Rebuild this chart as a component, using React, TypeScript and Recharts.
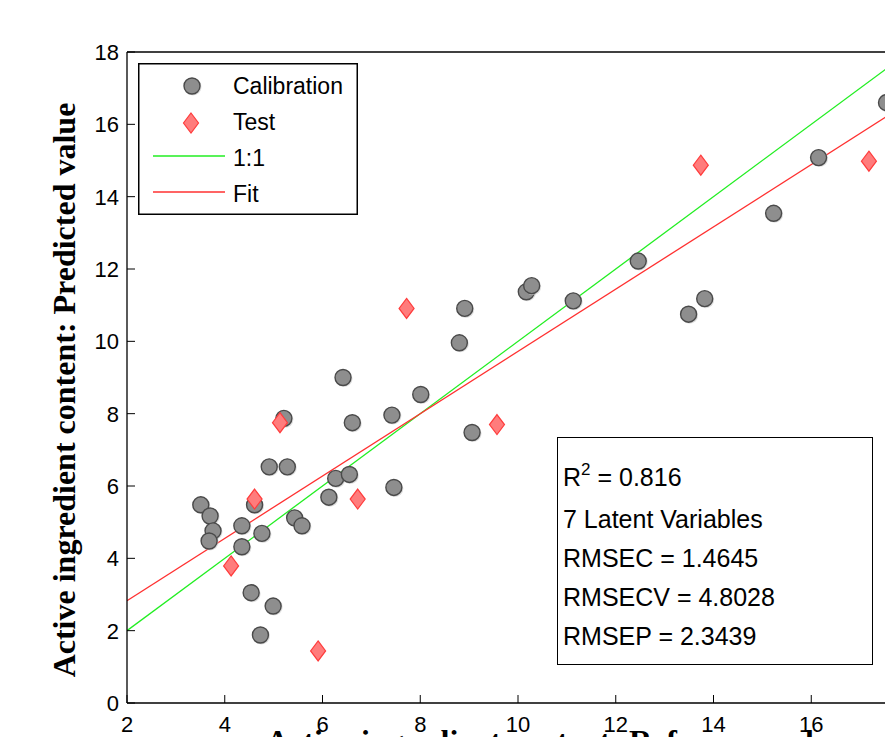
import React from 'react';
import { ComposedChart, Legend, ReferenceLine, Scatter, XAxis, YAxis } from 'recharts';

// values
const calX = [6.42, 8.01, 5.21, 6.61, 7.42, 4.91, 5.28, 6.27, 6.55, 7.46, 6.13, 3.51, 4.61, 3.7, 3.76, 3.68, 4.35, 4.76, 4.35, 5.43, 5.58, 4.54, 4.99, 4.73, 8.91, 8.8, 10.17, 10.28, 11.13, 9.06, 12.46, 13.82, 13.49, 15.23, 16.15, 17.54];
const calY = [9.0, 8.53, 7.87, 7.75, 7.96, 6.53, 6.53, 6.21, 6.32, 5.96, 5.69, 5.48, 5.48, 5.17, 4.76, 4.48, 4.9, 4.69, 4.32, 5.12, 4.9, 3.05, 2.68, 1.88, 10.91, 9.96, 11.37, 11.54, 11.12, 7.48, 12.22, 11.18, 10.75, 13.54, 15.08, 16.6];
const testX = [5.13, 4.61, 6.72, 4.13, 5.91, 7.72, 9.57, 13.74, 17.18];
const testY = [7.75, 5.64, 5.64, 3.79, 1.44, 10.91, 7.7, 14.87, 14.98];

const lineX = [2, 18];
const oneToOneY = [2, 18];
const fitY = [2.83, 16.61];

const xTicks = [2, 4, 6, 8, 10, 12, 14, 16, 18];
const yTicks = [0, 2, 4, 6, 8, 10, 12, 14, 16, 18];

const statLines = ['7 Latent Variables', 'RMSEC = 1.4645', 'RMSECV = 4.8028', 'RMSEP = 2.3439'];
const legendLabels = ['Calibration', 'Test', '1:1', 'Fit'];

const GREEN = '#22ee22';
const RED = '#ff3030';
const SANS = '"Liberation Sans", Arial, sans-serif';
const SERIF = '"Liberation Serif", "Times New Roman", serif';
const TICK_LEN = 8;
const X_MARGIN = 14;
const Y_MARGIN = 8;
const TOP_MARGIN = 4;

const calData = calX.map((x, i) => ({ x, y: calY[i] }));
const testData = testX.map((x, i) => ({ x, y: testY[i] }));

const CircleMark = ({ cx, cy }: any) => (
  <g>
    <circle cx={cx + 1} cy={cy + 1} r={8.5} fill='#c8c8c8' opacity={0.6} />
    <circle cx={cx} cy={cy} r={8} fill='#8e8e8e' stroke='#4a4a4a' strokeWidth={1.4} />
  </g>
);

const DiamondMark = ({ cx, cy }: any) => (
  <polygon
    points={`${cx},${cy - 10} ${cx + 7.5},${cy} ${cx},${cy + 10} ${cx - 7.5},${cy}`}
    fill='#ff7c7c'
    stroke='#ff3c3c'
    strokeWidth={1.2}
  />
);

// inward tick marks, matlab style
const BottomTick = ({ x, y, payload }: any) => {
  const axisY = y - X_MARGIN;
  return (
    <g>
      <line x1={x} x2={x} y1={axisY} y2={axisY - TICK_LEN} stroke='#000' />
      <text x={x} y={axisY + 29} textAnchor='middle' fontSize={22} fontFamily={SANS} fill='#000'>
        {payload.value}
      </text>
    </g>
  );
};

const TopTick = ({ x, y }: any) => {
  const axisY = y + TOP_MARGIN;
  return <line x1={x} x2={x} y1={axisY} y2={axisY + TICK_LEN} stroke='#000' />;
};

const LeftTick = ({ x, y, payload }: any) => {
  const axisX = x + Y_MARGIN;
  return (
    <g>
      <line x1={axisX} x2={axisX + TICK_LEN} y1={y} y2={y} stroke='#000' />
      <text x={axisX - 8} y={y + 8} textAnchor='end' fontSize={22} fontFamily={SANS} fill='#000'>
        {payload.value}
      </text>
    </g>
  );
};

const LegendBox = () => (
  <svg width={220} height={152} style={{ display: 'block' }}>
    <rect x={0.75} y={0.75} width={218.5} height={150.5} fill='#fff' stroke='#000' strokeWidth={1.5} />
    <CircleMark cx={54} cy={23} />
    <DiamondMark cx={53} cy={60} />
    <line x1={15} x2={87} y1={93} y2={93} stroke={GREEN} strokeWidth={1.3} />
    <line x1={15} x2={87} y1={129} y2={129} stroke={RED} strokeWidth={1.3} />
    {legendLabels.map((t, i) => (
      <text key={t} x={95} y={31 + i * 36} fontSize={23} fontFamily={SANS} fill='#000'>
        {t}
      </text>
    ))}
  </svg>
);

const XLabel = ({ viewBox }: any) => (
  <text
    x={viewBox.x + viewBox.width / 2 + 38}
    y={viewBox.y + 49}
    textAnchor='middle'
    fontSize={32}
    fontWeight='bold'
    fontFamily={SERIF}
    fill='#000'
  >
    Active ingredient content: Reference value
  </text>
);

const YLabel = ({ viewBox }: any) => (
  <text
    transform={`translate(${viewBox.x + 8},390) rotate(-90)`}
    textAnchor='middle'
    fontSize={32}
    fontWeight='bold'
    fontFamily={SERIF}
    fill='#000'
  >
    Active ingredient content: Predicted value
  </text>
);

export default function App() {
  return (
    <div
      style={{
        position: 'absolute',
        left: 0,
        top: 0,
        width: 885,
        height: 737,
        overflow: 'hidden',
        background: '#fff',
      }}
    >
      <ComposedChart
        width={960}
        height={800}
        margin={{ top: 50, right: 51, left: 67, bottom: 37 }}
      >
        <XAxis
          type='number'
          dataKey='x'
          domain={[2, 18]}
          ticks={xTicks}
          interval={0}
          tickSize={0}
          tickMargin={X_MARGIN}
          height={60}
          axisLine={{ stroke: '#000', strokeWidth: 1.3 }}
          tickLine={false}
          tick={BottomTick}
          allowDataOverflow
          label={{ content: XLabel }}
        />
        <XAxis
          xAxisId='top'
          orientation='top'
          type='number'
          domain={[2, 18]}
          ticks={xTicks}
          interval={0}
          tickSize={0}
          tickMargin={TOP_MARGIN}
          height={2}
          axisLine={{ stroke: '#000', strokeWidth: 1.3 }}
          tickLine={false}
          tick={TopTick}
          allowDataOverflow
        />
        <YAxis
          type='number'
          dataKey='y'
          domain={[0, 18]}
          ticks={yTicks}
          interval={0}
          tickSize={0}
          tickMargin={Y_MARGIN}
          width={60}
          axisLine={{ stroke: '#000', strokeWidth: 1.3 }}
          tickLine={false}
          tick={LeftTick}
          allowDataOverflow
          label={{ content: YLabel }}
        />
        <ReferenceLine
          segment={[
            { x: lineX[0], y: oneToOneY[0] },
            { x: lineX[1], y: oneToOneY[1] },
          ]}
          stroke={GREEN}
          strokeWidth={1.3}
          ifOverflow='hidden'
        />
        <ReferenceLine
          segment={[
            { x: lineX[0], y: fitY[0] },
            { x: lineX[1], y: fitY[1] },
          ]}
          stroke={RED}
          strokeWidth={1.3}
          ifOverflow='hidden'
        />
        <Scatter
          name='Calibration'
          data={calData}
          shape={CircleMark}
          isAnimationActive={false}
        />
        <Scatter
          name='Test'
          data={testData}
          shape={DiamondMark}
          isAnimationActive={false}
        />
        <Legend
          layout='vertical'
          align='center'
          verticalAlign='middle'
          content={LegendBox}
          wrapperStyle={{ left: 138, top: 63, width: 220, height: 152 }}
        />
      </ComposedChart>
      <div
        style={{
          position: 'absolute',
          left: 557,
          top: 437,
          width: 316,
          height: 228,
          border: '1.5px solid #000',
          background: '#fff',
          fontFamily: SANS,
          fontSize: 25,
          lineHeight: '39px',
          paddingLeft: 5,
          paddingTop: 20,
          boxSizing: 'border-box',
          color: '#000',
        }}
      >
        <div>
          R<span style={{ fontSize: 17, position: 'relative', top: -11 }}>2</span> = 0.816
        </div>
        {statLines.map(t => (
          <div key={t}>{t}</div>
        ))}
      </div>
    </div>
  );
}
